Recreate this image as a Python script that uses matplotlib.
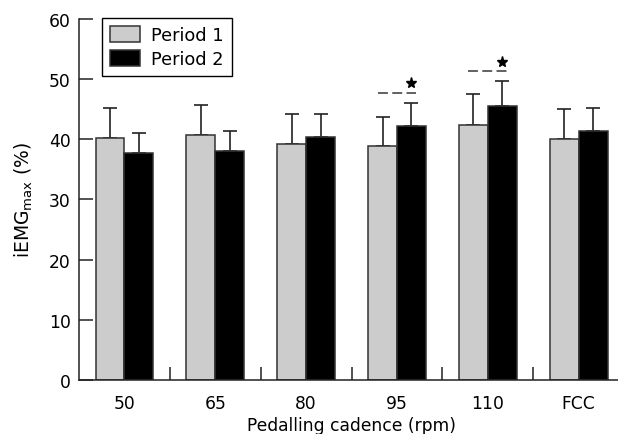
import numpy as np
import matplotlib
matplotlib.use('Agg')
import matplotlib.pyplot as plt

plt.rcParams['font.family'] = ['DejaVu Sans']

# Dane
kadencje = ['50', '65', '80', '95', '110', 'FCC']
okres1 = [40.1, 40.7, 39.2, 38.8, 42.4, 40.0]
okres1_sd = [5.0, 5.0, 4.9, 4.9, 5.05, 4.9]
okres2 = [37.6, 38.05, 40.4, 42.2, 45.5, 41.4]
okres2_sd = [3.45, 3.35, 3.7, 3.75, 4.05, 3.7]
istotne = [3, 4]  # grupy z gwiazdka

x = np.arange(len(kadencje))
w = 0.317

fig = plt.figure(figsize=(6.18, 4.35), dpi=100)
ax = fig.add_axes([79 / 618, 54 / 435, 1 - 79 / 618 + 0.01, (381 - 19.5) / 435])

ax.bar(x - w / 2, okres1, w, color='#cccccc', edgecolor='#333333', linewidth=1.1,
       label='Period 1', zorder=2)
ax.bar(x + w / 2, okres2, w, color='black', edgecolor='#333333', linewidth=1.1,
       label='Period 2', zorder=2)
ax.errorbar(x - w / 2, okres1, yerr=[np.zeros(len(x)), okres1_sd], fmt='none',
            ecolor='#222222', elinewidth=1.2, capsize=5, capthick=1.2, zorder=1)
ax.errorbar(x + w / 2, okres2, yerr=[np.zeros(len(x)), okres2_sd], fmt='none',
            ecolor='#222222', elinewidth=1.2, capsize=5, capthick=1.2, zorder=1)

# linie przerywane i gwiazdki
for i in istotne:
    top = max(okres1[i] + okres1_sd[i], okres2[i] + okres2_sd[i])
    y_line = top + 1.7
    ax.plot([i - w / 2 - 0.055, i + w / 2 + 0.055], [y_line, y_line], color='#555555',
            lw=1.3, dashes=[5.5, 2.4], zorder=3)
    ax.plot(i + w / 2, y_line + 1.6, marker='*', color='black', markersize=8, zorder=3)

ax.set_xlim(-0.5, 5.5)
ax.set_ylim(0, 60)
ax.set_yticks(range(0, 61, 10))
ax.set_xticks(x)
ax.set_xticklabels(kadencje)
ax.set_xticks(x[:-1] + 0.5, minor=True)
ax.tick_params(axis='y', direction='in', length=10, width=1.1, color='#222222',
               labelsize=12.3, pad=6)
ax.tick_params(axis='x', which='major', length=0, labelsize=12.3, pad=10)
ax.tick_params(axis='x', which='minor', direction='in', length=9.5, width=1.1,
               color='#222222')
for s in ['top', 'right']:
    ax.spines[s].set_visible(False)
for s in ['left', 'bottom']:
    ax.spines[s].set_linewidth(1.1)
    ax.spines[s].set_color('#222222')

ax.set_xlabel('Pedalling cadence (rpm)', fontsize=12.3, labelpad=3)
ax.set_ylabel('iEMG$_{\\mathregular{max}}$ (%)', fontsize=13.5, labelpad=10)

leg = ax.legend(loc='upper left', bbox_to_anchor=(102 / 618, 1 - 19 / 435),
                bbox_transform=fig.transFigure, borderaxespad=0, fontsize=12.8,
                fancybox=False, edgecolor='black', framealpha=1,
                handlelength=1.7, handleheight=1.0, labelspacing=0.33,
                handletextpad=0.6, borderpad=0.45)
leg.get_frame().set_linewidth(1.0)

fig.savefig('out.png', dpi=100)
